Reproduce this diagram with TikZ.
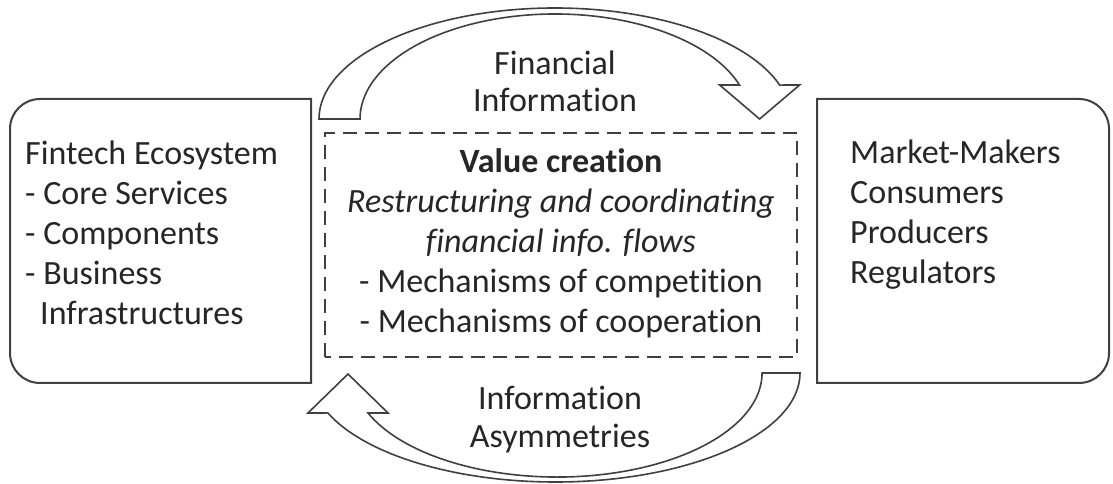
\documentclass[tikz,border=0pt]{standalone}
\usepackage{fontspec}
\setmainfont{Carlito}[Ligatures=NoCommon]
\definecolor{txt}{HTML}{262626}
\definecolor{ln}{HTML}{404040}
\begin{document}
\begin{tikzpicture}[x=1pt,y=1pt,
  boxline/.style={draw=ln, line width=2pt},
  arrowline/.style={draw=ln, line width=1.6pt, fill=white, line join=miter},
  lbl/.style={inner sep=0pt, text=txt, font=\fontsize{34}{40}\selectfont},
]
\useasboundingbox (0,0) rectangle (1113,484);
\fill[white] (0,0) rectangle (1113,484);

% side boxes
\draw[boxline] (311,385) -- (40,385) arc[start angle=90,end angle=180,radius=30pt] -- (10,131) arc[start angle=180,end angle=270,radius=30pt] -- (311,101) -- cycle;
\draw[boxline] (817,385) -- (1079,385) arc[start angle=90,end angle=0,radius=30pt] -- (1109,131) arc[start angle=0,end angle=-90,radius=30pt] -- (817,101) -- cycle;
% dashed centre box
\draw[draw=ln, line width=1.8pt, dash pattern=on 14pt off 8pt] (325,127) rectangle (797,351);

% curved block arrows
\draw[arrowline] (319,365) arc[start angle=180, end angle=17.8, x radius=236pt, y radius=111pt] -- (799.6,399) -- (759.6,365) -- (719.6,399) -- (739.5,399) arc[start angle=18.9, end angle=180, x radius=195pt, y radius=105pt] -- cycle;
\draw[arrowline] (800,111) arc[start angle=0, end angle=-158.5, x radius=244.6pt, y radius=109pt] -- (308,71) -- (348,110) -- (388,71) -- (368,71) arc[start angle=-157.4, end angle=0, x radius=204.9pt, y radius=104pt] -- cycle;

% texts (base anchor = baseline of the last line)
\node[lbl, anchor=base west, align=left] (eco) at (25,159) {Fintech Ecosystem\\- Core Services\\- Components\\- Business\\\hspace*{15pt}Infrastructures};
\node[lbl, anchor=base west, align=left] (mkt) at (850,200) {Market-Makers\\Consumers\\Producers\\Regulators};
\node[lbl, anchor=base, align=center] (val) at (561,151) {\textbf{Value creation}\\\textit{Restructuring and coordinating}\\\textit{financial info. flows}\\- Mechanisms of competition\\- Mechanisms of cooperation};
\node[lbl, anchor=base, align=center, font=\fontsize{34}{37}\selectfont] (fin) at (555,372) {Financial\\Information};
\node[lbl, anchor=base, align=center, font=\fontsize{34}{38}\selectfont] (asy) at (560,36) {Information\\Asymmetries};
\end{tikzpicture}
\end{document}
